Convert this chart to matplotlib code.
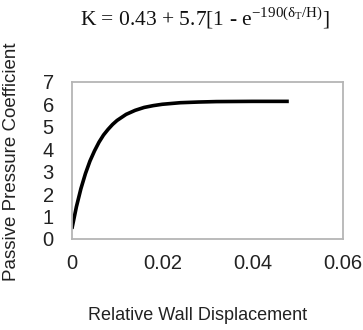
import matplotlib
matplotlib.use("Agg")
import matplotlib.pyplot as plt

# Relative wall displacement (delta_T / H) and passive pressure coefficient K
displacement = [0.0, 0.001, 0.002, 0.003, 0.004, 0.005, 0.006, 0.007, 0.008,
                0.009, 0.010, 0.012, 0.014, 0.016, 0.018, 0.020, 0.024,
                0.028, 0.032, 0.040, 0.048]
coefficient = [0.45, 1.43, 2.24, 2.91, 3.47, 3.92, 4.31, 4.63, 4.88, 5.10,
               5.28, 5.55, 5.73, 5.86, 5.94, 6.00, 6.07, 6.10, 6.12, 6.13, 6.13]

x_ticks = [0, 0.02, 0.04, 0.06]
x_tick_labels = ["0", "0.02", "0.04", "0.06"]
y_ticks = [0, 1, 2, 3, 4, 5, 6, 7]

plt.rcParams['font.family'] = ['Liberation Sans', 'DejaVu Sans']
plt.rcParams['mathtext.fontset'] = 'stix'

fig = plt.figure(figsize=(3.63, 3.30), dpi=100)
ax = fig.add_axes([0.198, 0.276, 0.747, 0.476])
ax.plot(displacement, coefficient, color='black', lw=2.6, solid_capstyle='butt')
ax.set_xlim(0, 0.06)
ax.set_ylim(0, 7)
ax.set_xticks(x_ticks)
ax.set_xticklabels(x_tick_labels)
ax.set_yticks(y_ticks)
ax.tick_params(length=0, labelsize=14.5, colors='#222222')
ax.tick_params(axis='y', pad=13)
ax.tick_params(axis='x', pad=11)
for s in ax.spines.values():
    s.set_color('#b5b5b5')
    s.set_linewidth(1.3)

fig.text(0.033, 0.51, "Passive Pressure Coefficient", rotation=90,
         ha='center', va='center', fontsize=13.5, color='#222222')
fig.text(0.543, 0.045, "Relative Wall Displacement", ha='center',
         va='center', fontsize=13, color='#222222')
fig.text(0.565, 0.945,
         r"K = 0.43 + 5.7[1 - e$^{\mathregular{-190(\delta_T/H)}}$]",
         ha='center', va='center', fontsize=15.5,
         family=['Liberation Serif', 'DejaVu Serif'], color='#111111')

fig.savefig("out.png", dpi=100)
